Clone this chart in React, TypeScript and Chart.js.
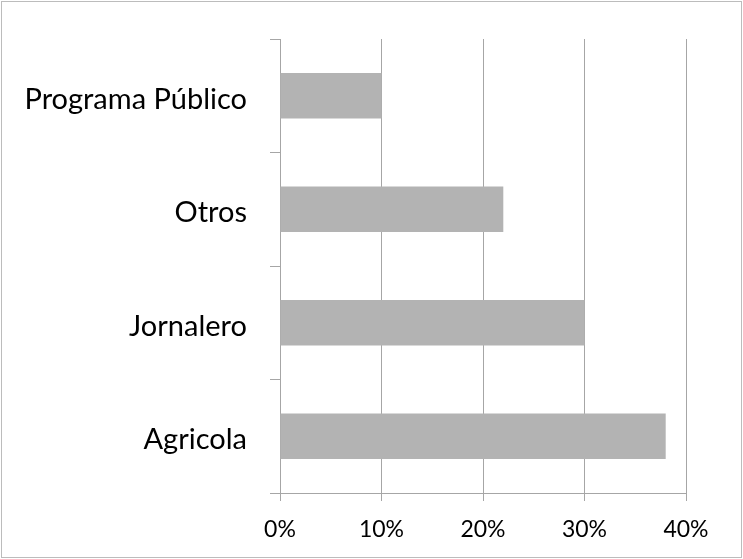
import React, { useEffect, useRef } from "react";
import { Chart, registerables } from "chart.js";

Chart.register(...registerables);

const categories: string[] = ["Programa Público", "Otros", "Jornalero", "Agricola"];
const values: number[] = [10, 22, 30, 38];
const xMin = 0;
const xMax = 40;
const xStep = 10;

const borderPlugin = {
  id: "outerBorder",
  afterDraw(chart: any) {
    const ctx = chart.ctx;
    ctx.save();
    ctx.strokeStyle = "#bcbcbc";
    ctx.lineWidth = 1;
    ctx.strokeRect(1.5, 1.5, chart.width - 3, chart.height - 3);
    ctx.restore();
  },
};

export default function App() {
  const ref = useRef<HTMLCanvasElement | null>(null);
  useEffect(() => {
    document.body.style.margin = "0";
    const canvas = ref.current;
    if (!canvas) return;
    const chart = new Chart(canvas, {
      type: "bar",
      data: {
        labels: categories,
        datasets: [
          {
            data: values,
            backgroundColor: "#b3b3b3",
            borderWidth: 0,
            categoryPercentage: 1,
            barPercentage: 0.4,
          },
        ],
      },
      options: {
        indexAxis: "y",
        animation: false,
        responsive: false,
        maintainAspectRatio: false,
        layout: { padding: { top: 39, right: 57, bottom: 0, left: 0 } },
        plugins: {
          legend: { display: false },
          tooltip: { enabled: false },
        },
        scales: {
          x: {
            min: xMin,
            max: xMax,
            afterFit(scale: any) {
              scale.height = 66;
            },
            ticks: {
              stepSize: xStep,
              padding: 15,
              color: "#000",
              font: { family: "Lato", size: 23 },
              callback: (v: any) => v + "%",
              maxRotation: 0,
            },
            grid: {
              color: "#a6a6a6",
              lineWidth: 1,
              tickLength: 8,
              drawTicks: true,
            },
            border: { display: true, color: "#a6a6a6", width: 1 },
          },
          y: {
            afterFit(scale: any) {
              scale.width = 280;
            },
            ticks: {
              padding: 23,
              color: "#000",
              font: { family: "Lato", size: 29, lineHeight: "7px" },
              callback: (_v: any, i: number) => ["", categories[i]],
            },
            grid: {
              offset: true,
              drawOnChartArea: false,
              drawTicks: true,
              tickLength: 10,
              color: "#a6a6a6",
            },
            border: { display: true, color: "#a6a6a6", width: 1 },
          },
        },
      },
      plugins: [borderPlugin],
    });
    return () => chart.destroy();
  }, []);
  return (
    <div style={{ width: 743, height: 559 }}>
      <canvas ref={ref} width={743} height={559} style={{ display: "block" }} />
    </div>
  );
}
